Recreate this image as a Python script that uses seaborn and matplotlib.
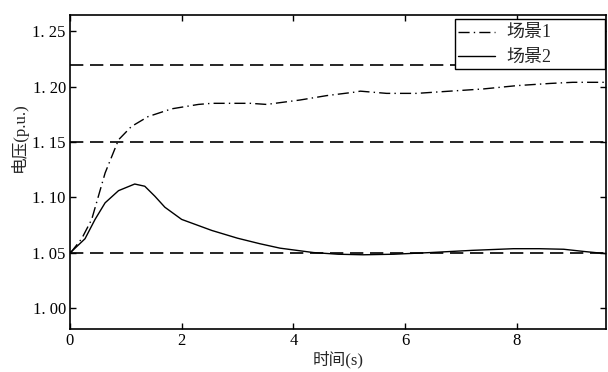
import matplotlib
matplotlib.use("Agg")
import matplotlib.pyplot as plt
import seaborn as sns
import pandas as pd
from matplotlib.lines import Line2D
from matplotlib.patches import Rectangle

# Scenario 1 (dash-dot)
t1 = [0.0, 0.03, 0.21, 0.39, 0.51, 0.63, 0.75, 0.87, 1.10, 1.40, 1.82, 2.30, 2.54, 3.23, 3.52, 4.12,
      4.60, 5.08, 5.2, 5.67, 6.21, 6.8, 7.4, 8.0, 8.6, 9.0, 9.44, 9.6]
v1 = [1.050, 1.051, 1.0625, 1.080, 1.101, 1.122, 1.137, 1.152, 1.164, 1.173, 1.180, 1.184, 1.185, 1.185,
      1.184, 1.188, 1.192, 1.195, 1.196, 1.194, 1.194, 1.196, 1.198, 1.201, 1.203, 1.204, 1.204, 1.204]
# Scenario 2 (solid)
t2 = [0.0, 0.03, 0.27, 0.45, 0.63, 0.87, 1.16, 1.34, 1.52, 1.70, 2.0, 2.54, 3.0, 3.4, 3.76, 4.36,
      4.8, 5.25, 5.8, 6.45, 7.2, 7.94, 8.4, 8.84, 9.2, 9.6]
v2 = [1.050, 1.051, 1.0625, 1.080, 1.095, 1.106, 1.112, 1.110, 1.101, 1.091, 1.080, 1.070, 1.063, 1.058,
      1.054, 1.050, 1.0485, 1.048, 1.0485, 1.050, 1.052, 1.0535, 1.0535, 1.053, 1.051, 1.049]
limits = [1.22, 1.15, 1.05]
names = ["场景1", "场景2"]
yticks = [1.00, 1.05, 1.10, 1.15, 1.20, 1.25]
xticks = [0, 2, 4, 6, 8]

sns.set_style("ticks")
plt.rcParams["font.family"] = ["Liberation Serif", "Noto Sans CJK SC"]
plt.rcParams["xtick.direction"] = "in"
plt.rcParams["ytick.direction"] = "in"

df = pd.concat([
    pd.DataFrame({"t": t1, "v": v1, "s": names[0]}),
    pd.DataFrame({"t": t2, "v": v2, "s": names[1]}),
])

fig = plt.figure(figsize=(6.08, 3.72), dpi=100)
ax = fig.add_axes([0.115, 0.116, 0.882, 0.844])

sns.lineplot(data=df, x="t", y="v", hue="s", style="s",
             palette=["black", "black"], dashes=[(8, 3, 1, 3), ""],
             linewidth=1.0, ax=ax, legend=False, sort=False)

for y in limits:
    ax.axhline(y, color="black", lw=1.2, dashes=(8, 4), zorder=1)

# legend frame (white box with black border)
fig.patches.append(Rectangle((455 / 608, 1 - 69 / 372), 150 / 608, 50 / 372,
                             transform=fig.transFigure, facecolor="white",
                             edgecolor="black", lw=1.0, zorder=5))
h = [Line2D([], [], color="black", lw=1.0, dashes=(8, 3, 1, 3)),
     Line2D([], [], color="black", lw=1.0)]
leg = fig.legend(h, names, loc="upper left", bbox_to_anchor=(458 / 608, 1 - 25 / 372),
                 bbox_transform=fig.transFigure, frameon=False, fontsize=13,
                 handlelength=2.05, borderpad=0, labelspacing=0.42,
                 handletextpad=0.65, borderaxespad=0)
leg.set_zorder(6)

ax.set_xlim(0, 9.6)
ax.set_ylim(0.981, 1.265)
ax.set_xticks(xticks)
ax.set_xticklabels([str(x) for x in xticks])
ax.set_yticks(yticks)
ax.set_yticklabels([f"{y:.2f}".replace(".", ". ") for y in yticks])
ax.tick_params(axis="both", labelsize=12, length=4, width=1.0,
               top=True, right=True, colors="black", pad=3)
for s in ax.spines.values():
    s.set_linewidth(1.2)
    s.set_color("black")
ax.set_xlabel("时间(s)", fontsize=12, labelpad=1)
ax.set_ylabel("电压(p.u.)", fontsize=12)
ax.yaxis.set_label_coords(-0.078, 0.61)

fig.savefig("out.png", dpi=100)
